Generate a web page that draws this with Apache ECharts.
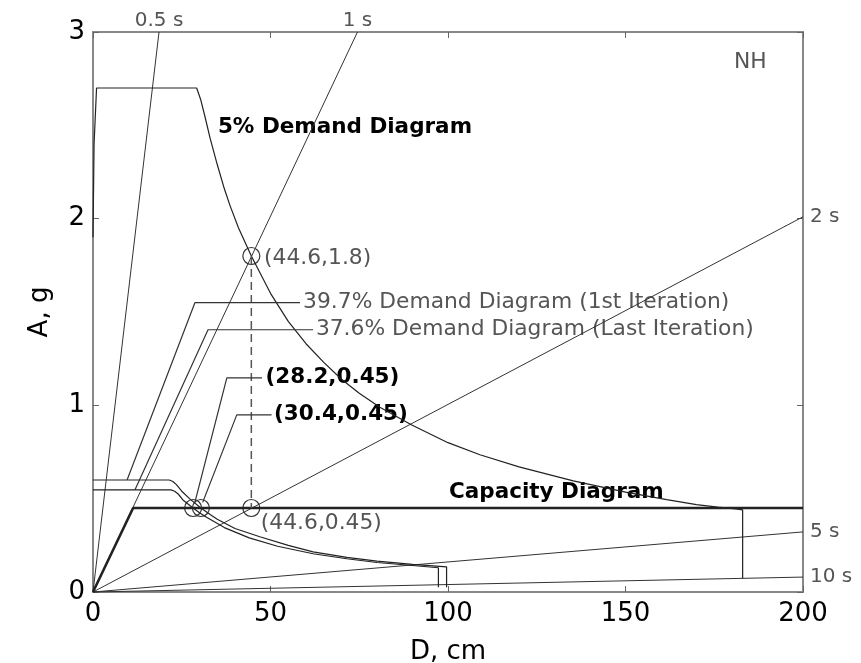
<!DOCTYPE html>
<html><head><meta charset="utf-8">
<script src="https://cdn.jsdelivr.net/npm/echarts@6/dist/echarts.min.js"></script>
<style>html,body{margin:0;padding:0;background:#fff}#c{width:861px;height:663px}</style>
</head><body><div id="c"></div>
<script>
// ---- data ----
const xTicks = [0, 50, 100, 150, 200];
const yTicks = [0, 1, 2, 3];
const periodLabels = ['0.5 s', '1 s', '2 s', '5 s', '10 s'];
const periodEnds = [[18.6, 3], [74.5, 3], [200, 2.01], [200, 0.322], [200, 0.08]];

const demand5 = [[0,1.9],[0.3,2.4],[1.0,2.7],[29.2,2.7],[30.3,2.64],[31.5,2.55],[33,2.43],[35,2.29],[37,2.16],[38.6,2.07],[41,1.95],[44.6,1.8],[50,1.6],[55,1.45],[60,1.33],[65,1.23],[70,1.14],[75,1.065],[80.8,0.99],[89.8,0.895],[100,0.80],[109,0.735],[120,0.67],[135.3,0.595],[150,0.535],[161.6,0.495],[170,0.468],[176,0.455],[181,0.445],[183,0.44],[183,0.073]];
const demand397 = [[0,0.6],[21.5,0.6],[22.5,0.592],[23.5,0.575],[25,0.54],[27.5,0.495],[30.4,0.45],[33,0.415],[35,0.39],[40,0.34],[47,0.296],[55,0.25],[62,0.215],[71.5,0.185],[80,0.165],[90,0.148],[99.6,0.135],[99.6,0.025]];
const demand376 = [[0,0.547],[22,0.547],[23,0.54],[24,0.525],[25.5,0.49],[28.2,0.45],[30,0.425],[32,0.40],[37,0.345],[44,0.29],[52,0.245],[62,0.205],[71.5,0.178],[80,0.158],[90,0.142],[97.3,0.13],[97.3,0.025]];
const capacity = [[0,0],[11.3,0.45],[200,0.45]];

const circledPoints = [[44.6,1.8],[44.6,0.45],[28.2,0.45],[30.4,0.45]];
const dashedDrop = [[44.6,1.8],[44.6,0.45]];
const leader397 = [[58.3,1.55],[28.7,1.55],[9.6,0.6]];
const leader376 = [[62.0,1.405],[32.4,1.405],[11.8,0.547]];
const leader282 = [[47.6,1.147],[37.7,1.147],[28.7,0.48]];
const leader304 = [[50.3,0.949],[40.5,0.949],[30.9,0.48]];

const plainNotes = [
  {name:'(44.6,1.8)', value:[47.9,1.79]},
  {name:'39.7% Demand Diagram (1st Iteration)', value:[58.9,1.55]},
  {name:'37.6% Demand Diagram (Last Iteration)', value:[62.5,1.405]},
  {name:'(44.6,0.45)', value:[47.0,0.37]},
  {name:'NH', value:[180.3,2.84]}
];
const boldNotes = [
  {name:'5% Demand Diagram', value:[34.9,2.488]},
  {name:'(28.2,0.45)', value:[48.3,1.147]},
  {name:'(30.4,0.45)', value:[50.7,0.949]},
  {name:'Capacity Diagram', value:[100,0.531]}
];

// ---- chart ----
const FONT = 'DejaVu Sans';
const CLEAR = 'rgba(0,0,0,0)';
const lineBase = (data, color, width, extra) => Object.assign({
  type:'line', data, showSymbol:false, symbol:'none', silent:true, clip:false,
  lineStyle:{color, width}
}, extra || {});
const textSeries = (data, label) => ({
  type:'scatter', silent:true, clip:false, symbolSize:2,
  itemStyle:{color:CLEAR, opacity:1},
  data, label:Object.assign({show:true, formatter:'{b}', fontFamily:FONT}, label)
});

const series = [];
periodEnds.forEach((e) => {
  series.push(lineBase([[0,0], e], '#333', 1));
});
series.push(textSeries(
  periodEnds.map((e,i)=>({name:periodLabels[i], value:e,
    label:{position: e[1] >= 3 ? 'top' : 'right', distance: e[1] >= 3 ? 0 : 6}})),
  {fontSize:20, color:'#555'}
));
series.push(lineBase(demand5, '#222', 1.2));
series.push(lineBase(demand397, '#222', 1.2));
series.push(lineBase(demand376, '#222', 1.2));
series.push(lineBase(capacity, '#222', 2.6));
series.push(lineBase(dashedDrop, '#555', 1.5, {lineStyle:{color:'#555', width:1.5, type:[8,5]}}));
[leader397, leader376, leader282, leader304].forEach(l => series.push(lineBase(l, '#333', 1.2)));
series.push({
  type:'scatter', silent:true, clip:false, symbol:'circle', symbolSize:17,
  itemStyle:{color:CLEAR, borderColor:'#333', borderWidth:1.2, opacity:1},
  data: circledPoints
});
series.push(textSeries(plainNotes, {position:'right', distance:0, fontSize:21.8, color:'#555'}));
series.push(textSeries(boldNotes, {position:'right', distance:0, fontSize:21.5, fontWeight:'bold', color:'#000'}));

const axisLine = {show:true, onZero:false, lineStyle:{color:'#888', width:2}};
const axisTick = {show:true, inside:true, length:6, lineStyle:{color:'#666', width:1}};

const chart = echarts.init(document.getElementById('c'), null, {renderer:'canvas'});
chart.setOption({
  animation:false,
  backgroundColor:'#fff',
  textStyle:{fontFamily:FONT},
  grid:{left:93, right:58, top:32, bottom:71, containLabel:false, outerBoundsMode:'none'},
  xAxis:[
    {type:'value', position:'bottom', min:xTicks[0], max:xTicks[xTicks.length-1], interval:xTicks[1]-xTicks[0],
     axisLine, axisTick, splitLine:{show:false},
     axisLabel:{fontSize:26, color:'#000', margin:9, fontFamily:FONT},
     name:'D, cm', nameLocation:'middle', nameGap:47, nameTextStyle:{fontSize:26, color:'#000', fontFamily:FONT}},
    {type:'value', position:'top', min:xTicks[0], max:xTicks[xTicks.length-1], interval:xTicks[1]-xTicks[0],
     axisLine, axisTick, splitLine:{show:false}, axisLabel:{show:false}}
  ],
  yAxis:[
    {type:'value', position:'left', min:yTicks[0], max:yTicks[yTicks.length-1], interval:yTicks[1]-yTicks[0],
     axisLine, axisTick, splitLine:{show:false},
     axisLabel:{fontSize:26, color:'#000', margin:8, fontFamily:FONT},
     name:'A, g', nameLocation:'middle', nameGap:40, nameTextStyle:{fontSize:26, color:'#000', fontFamily:FONT}},
    {type:'value', position:'right', min:yTicks[0], max:yTicks[yTicks.length-1], interval:yTicks[1]-yTicks[0],
     axisLine, axisTick, splitLine:{show:false}, axisLabel:{show:false}}
  ],
  series
});
</script></body></html>
